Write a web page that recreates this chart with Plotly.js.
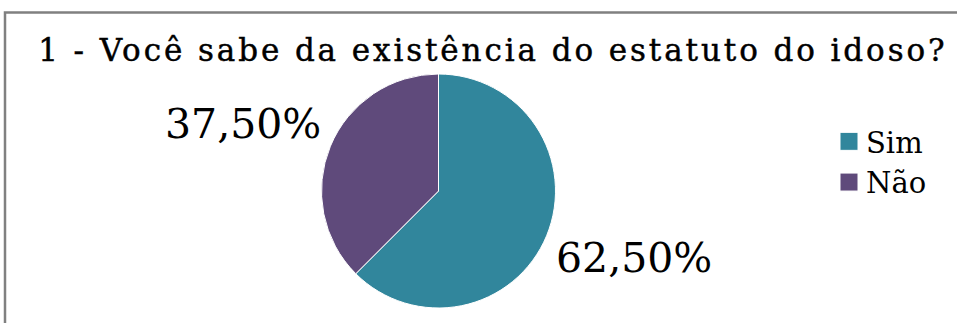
<!DOCTYPE html>
<html>
<head>
<meta charset="utf-8">
<script src="https://cdn.plot.ly/plotly-3.0.1.min.js"></script>
<style>
html,body{margin:0;padding:0;background:#fff;}
#chart{width:957px;height:323px;}
#chart .gtitle{letter-spacing:2.9px; stroke:#000000; stroke-width:0.45px;}
</style>
</head>
<body>
<div id="chart"></div>
<script>
const categories = ["Sim", "Não"];
const values = [62.5, 37.5];
const colors = ["#31869C", "#5F4A7B"];
const chartTitle = "1 - Você sabe da existência do estatuto do idoso?";

const total = values.reduce((a, b) => a + b, 0);
const labelsText = values.map(v => (v / total * 100).toFixed(2).replace(".", ",") + "%");

const W = 957, H = 323;
const serif = "DejaVu Serif";

// pie placement (pixels)
const cx = 438.5, cy = 191, r = 117;

// label positions derived from slice mid-angles (clockwise from 12 o'clock)
const annotations = [];
let acc = 0;
values.forEach((v, i) => {
  const mid = (acc + v / 2) / total * 2 * Math.PI;
  acc += v;
  const px = cx + 1.81 * r * Math.sin(mid);
  const py = cy - 1.5 * r * Math.cos(mid);
  annotations.push({
    xref: "paper", yref: "paper",
    x: px / W, y: 1 - py / H,
    xanchor: "center", yanchor: "middle",
    text: labelsText[i], showarrow: false,
    font: {family: serif, size: 41, color: "#000000"}
  });
});

const trace = {
  type: "pie",
  labels: categories,
  values: values,
  textinfo: "none",
  sort: false,
  direction: "clockwise",
  rotation: 0,
  marker: {colors: colors, line: {color: "#ffffff", width: 1}},
  hoverinfo: "none",
  domain: {x: [(cx - r) / W, (cx + r) / W], y: [1 - (cy + r) / H, 1 - (cy - r) / H]}
};

const layout = {
  width: W,
  height: H,
  margin: {l: 0, r: 0, t: 0, b: 0},
  paper_bgcolor: "#ffffff",
  showlegend: true,
  title: {
    text: chartTitle,
    font: {family: serif, size: 31, color: "#000000"},
    x: 0.515, xanchor: "center",
    y: 1 - 50 / H, yanchor: "middle"
  },
  legend: {
    x: 826 / W, xanchor: "left",
    y: 1 - 116 / H, yanchor: "top",
    font: {family: serif, size: 29, color: "#000000"},
    itemwidth: 30,
    bgcolor: "rgba(0,0,0,0)"
  },
  annotations: annotations,
  shapes: [
    {type: "rect", xref: "paper", yref: "paper",
     x0: 5 / W, x1: 1.05, y0: -0.1, y1: 1 - 12.5 / H,
     line: {color: "#808080", width: 2.5}, fillcolor: "rgba(0,0,0,0)", layer: "below"}
  ]
};

Plotly.newPlot("chart", [trace], layout, {staticPlot: true, displayModeBar: false}).then(() => {
  document.querySelectorAll("#chart .legendpoints path").forEach(p => {
    p.setAttribute("d", "M12,9H-6V-9H12Z");
  });
});
</script>
</body>
</html>
